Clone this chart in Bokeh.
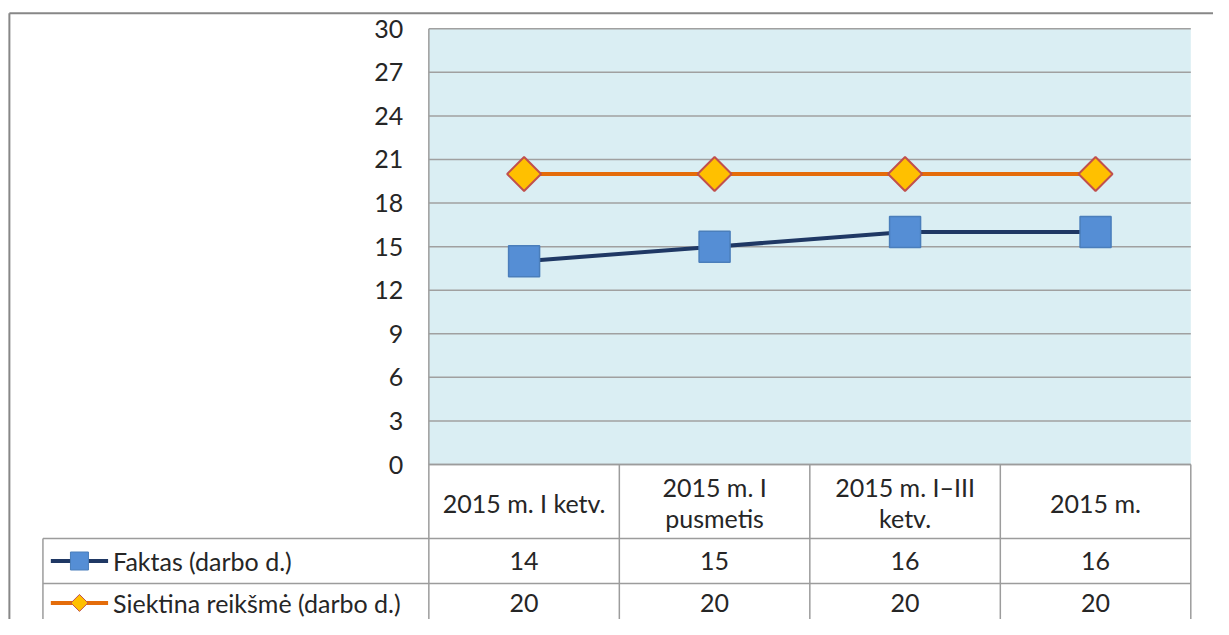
from bokeh.plotting import figure
from bokeh.models import Range1d
from bokeh.core.properties import value
from bokeh.embed import file_html
from bokeh.resources import INLINE
import math

# ---------------- data ----------------
categories = [["2015 m. I ketv."], ["2015 m. I", "pusmetis"], ["2015 m. I\u2013III", "ketv."], ["2015 m."]]
faktas = [14, 15, 16, 16]
siektina = [20, 20, 20, 20]
series_names = ["Faktas (darbo d.)", "Siektina reik\u0161m\u0117 (darbo d.)"]
y_ticks = [0, 3, 6, 9, 12, 15, 18, 21, 24, 27, 30]

# ---------------- layout helpers (reference pixel -> data) ----------------
W, H = 1213, 619
RW, RH = 1229.0, 635.0
X_PX = 193.0            # reference pixels per category
Y_PX = 447.0 / 30.0     # reference pixels per unit
PLOT_L, PLOT_T = 434.0, 29.0   # reference pixel of x=0.5, y=30

def px2x(px):
    return 0.5 + (px - PLOT_L) / X_PX

def py2y(py):
    return 30 - (py - PLOT_T) / Y_PX

FONT = value("Lato")
FS = "25px"
TXT = "#262626"
GRID = "#A0A0A0"
TAB = "#9C9C9C"

p = figure(width=W, height=H, output_backend="svg", toolbar_location=None,
           x_range=Range1d(px2x(0), px2x(RW)), y_range=Range1d(py2y(RH), py2y(0)),
           min_border=0, outline_line_color=None, background_fill_color="white",
           border_fill_color="white")
p.xaxis.visible = False
p.yaxis.visible = False
p.xgrid.visible = False
p.ygrid.visible = False

n = len(categories)
xs = [i + 1 for i in range(n)]
x_lo, x_hi = 0.5, n + 0.5

# plot area background
p.quad(left=[x_lo], right=[x_hi], bottom=[min(y_ticks)], top=[max(y_ticks)],
       fill_color="#DAEEF3", line_color=None)

# horizontal gridlines
p.segment(x0=[x_lo] * len(y_ticks), x1=[x_hi] * len(y_ticks), y0=y_ticks, y1=y_ticks,
          line_color=GRID, line_width=1.5)

# y tick labels
p.text(x=[px2x(408)] * len(y_ticks), y=y_ticks, text=[str(t) for t in y_ticks],
       text_font=FONT, text_font_size=FS, text_color=TXT,
       text_align="right", text_baseline="middle")

# outer chart border
p.segment(x0=[px2x(9), px2x(9)], x1=[px2x(9), px2x(RW)],
          y0=[py2y(13), py2y(13)], y1=[py2y(RH), py2y(13)],
          line_color="#878787", line_width=2)

# ---------------- data table ----------------
row_cat_b = py2y(552)
row1_b = py2y(598)
bottom = py2y(RH)
tab_left = px2x(43)

# horizontal table lines
p.segment(x0=[x_lo, tab_left, tab_left], x1=[x_hi, x_hi, x_hi],
          y0=[0, row_cat_b, row1_b], y1=[0, row_cat_b, row1_b],
          line_color=TAB, line_width=1.5)
# vertical table lines
bounds = [x_lo + i for i in range(n + 1)]
p.segment(x0=[x_lo], x1=[x_lo], y0=[max(y_ticks)], y1=[bottom], line_color=TAB, line_width=1.5)
p.segment(x0=bounds[1:], x1=bounds[1:], y0=[0] * n, y1=[bottom] * n, line_color=TAB, line_width=1.5)
p.segment(x0=[tab_left], x1=[tab_left], y0=[row_cat_b], y1=[bottom], line_color=TAB, line_width=1.5)

# category labels
cx, cy, ct = [], [], []
mid = py2y(515)
lh = 32.0 / Y_PX
for x, lines in zip(xs, categories):
    k = len(lines)
    for j, s in enumerate(lines):
        cx.append(x)
        cy.append(mid + ((k - 1) / 2 - j) * lh)
        ct.append(s)
p.text(x=cx, y=cy, text=ct, text_font=FONT, text_font_size=FS, text_color=TXT,
       text_align="center", text_baseline="middle")

# value rows
row_y = [py2y(575), py2y(618)]
for ry, vals in zip(row_y, [faktas, siektina]):
    p.text(x=xs, y=[ry] * n, text=[str(v) for v in vals], text_font=FONT, text_font_size=FS,
           text_color=TXT, text_align="center", text_baseline="middle")

# legend keys + names
p.text(x=[px2x(114)] * 2, y=row_y, text=series_names, text_font=FONT, text_font_size=FS,
       text_color=TXT, text_align="left", text_baseline="middle")
p.segment(x0=[px2x(51)], x1=[px2x(109)], y0=[row_y[0]], y1=[row_y[0]], line_color="#1F3864", line_width=4)
p.scatter(x=[px2x(80)], y=[row_y[0]], marker="square", size=18, fill_color="#558ED5",
          line_color="#4A7EBB", line_width=1)
p.segment(x0=[px2x(51)], x1=[px2x(109)], y0=[row_y[1]], y1=[row_y[1]], line_color="#E46C0A", line_width=4)
p.scatter(x=[px2x(80)], y=[row_y[1]], marker="square", angle=math.pi / 4, size=12,
          fill_color="#FFC000", line_color="#C0504D", line_width=1)

# ---------------- series ----------------
p.line(xs, siektina, line_color="#E46C0A", line_width=4)
p.line(xs, faktas, line_color="#1F3864", line_width=4)
p.scatter(xs, faktas, marker="square", size=31, fill_color="#558ED5",
          line_color="#4A7EBB", line_width=1.5)
p.scatter(xs, siektina, marker="square", angle=math.pi / 4, size=24,
          fill_color="#FFC000", line_color="#C0504D", line_width=2)

open("out.html", "w").write(file_html(p, INLINE))
